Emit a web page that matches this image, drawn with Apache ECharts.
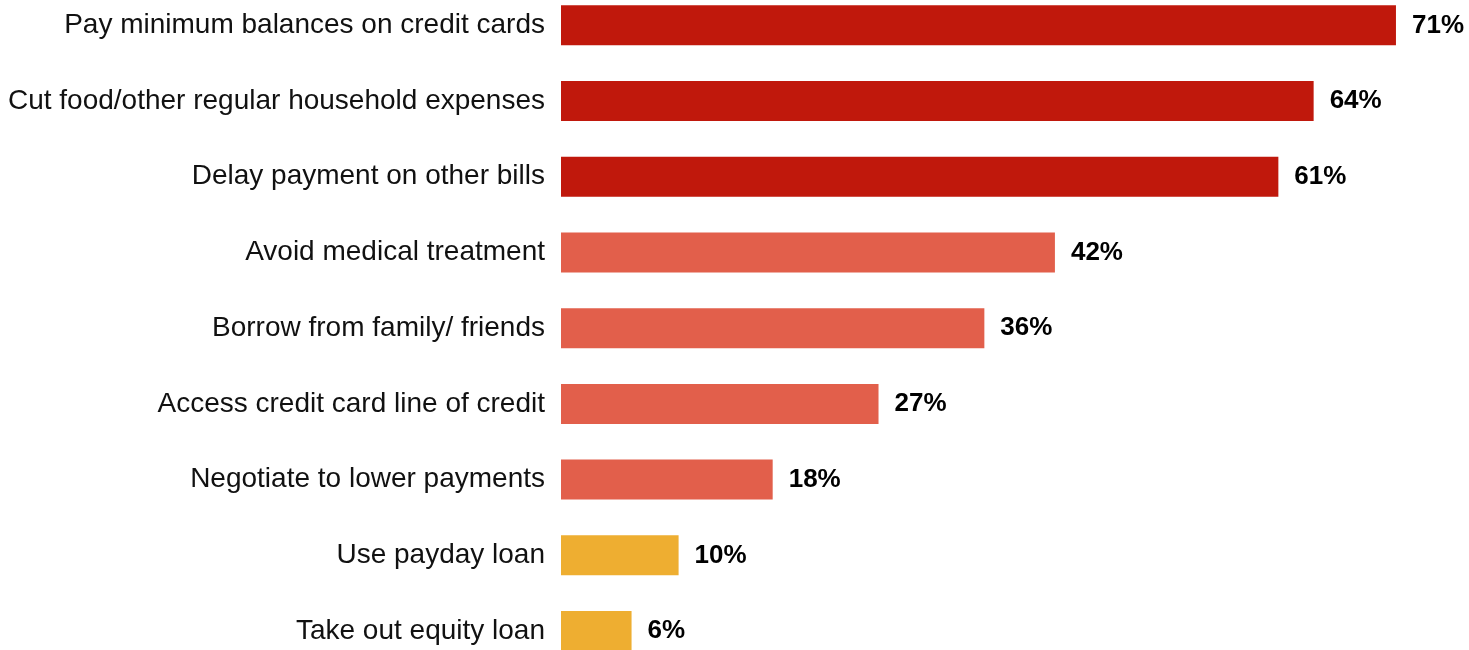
<!DOCTYPE html>
<html>
<head>
<meta charset="utf-8">
<style>
  html, body { margin: 0; padding: 0; background: #fff; }
  #chart { width: 1469px; height: 650px; }
</style>
<script src="https://cdn.jsdelivr.net/npm/echarts@6/dist/echarts.min.js"></script>
</head>
<body>
<div id="chart"></div>
<script>
// Actions taken, top to bottom
const categories = [
  'Pay minimum balances on credit cards',
  'Cut food/other regular household expenses',
  'Delay payment on other bills',
  'Avoid medical treatment',
  'Borrow from family/ friends',
  'Access credit card line of credit',
  'Negotiate to lower payments',
  'Use payday loan',
  'Take out equity loan'
];
// Share of respondents, percent
const values = [71, 64, 61, 42, 36, 27, 18, 10, 6];
// Colour group for each bar: 0 = most common, 1 = middle, 2 = least common
const groups = [0, 0, 0, 1, 1, 1, 1, 2, 2];
const groupColors = ['#C0180C', '#E25F4B', '#EEAE31'];

const FONT = "'Liberation Sans', Arial, Helvetica, sans-serif";

const chart = echarts.init(document.getElementById('chart'));
chart.setOption({
  animation: false,
  grid: {
    left: 561, top: -12.5, width: 882, height: 681.4,
    outerBoundsMode: 'none'
  },
  xAxis: {
    type: 'value', min: 0, max: 75,
    show: false
  },
  yAxis: {
    type: 'category',
    data: categories,
    inverse: true,
    axisLine: { show: false },
    axisTick: { show: false },
    axisLabel: {
      margin: 16,
      padding: [4, 0, 0, 0],
      fontFamily: FONT,
      fontSize: 28,
      color: '#111'
    }
  },
  series: [{
    type: 'bar',
    barWidth: 40,
    data: values.map((v, i) => ({ value: v, itemStyle: { color: groupColors[groups[i]] } })),
    label: {
      show: true,
      position: 'right',
      distance: 16,
      padding: [4, 0, 0, 0],
      formatter: '{c}%',
      fontFamily: FONT,
      fontSize: 26,
      fontWeight: 'bold',
      color: '#000'
    }
  }]
});
</script>
</body>
</html>
